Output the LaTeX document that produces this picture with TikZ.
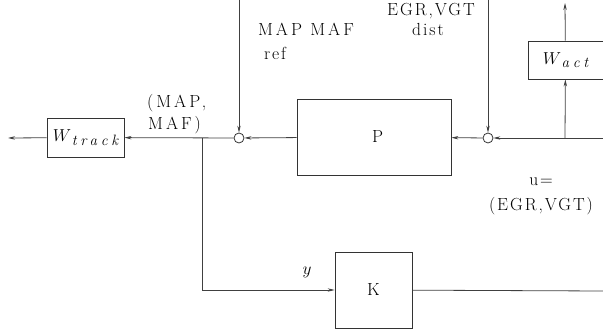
\documentclass[tikz,border=0pt]{standalone}
\usepackage{fontspec}
\setmainfont{Latin Modern Roman}[LetterSpace=11]
\usetikzlibrary{arrows.meta}
% weighting-block label: large W with a spaced italic subscript
\newcommand{\wlabel}[1]{{\fontsize{19}{19}\selectfont$W$}\kern0.5pt\raisebox{-3.5pt}{\fontsize{15}{15}\selectfont\addfontfeature{LetterSpace=25}\itshape #1}}
\tikzset{
  wire/.style={draw=black!75, line width=0.8pt},
  arr/.style={wire, -{Stealth[length=7pt,width=3.4pt]}},
  blk/.style={draw=black!80, line width=0.8pt, inner sep=0pt, rectangle},
  sumnode/.style={draw=black!80, line width=0.8pt, circle, minimum size=10pt, inner sep=0pt},
  lbl/.style={inner sep=0pt, anchor=base},
  wide/.style={font=\fontsize{17.5}{23}\selectfont\addfontfeature{LetterSpace=17}},
}
\begin{document}
\begin{tikzpicture}[x=1pt, y=-1pt, font=\fontsize{17.5}{23}\selectfont]
\useasboundingbox (0,0) rectangle (603,329);

% blocks
\node[blk, minimum width=77pt, minimum height=39pt] (Wt) at (85.5,137.5) {\wlabel{track}};
\node[blk, minimum width=154pt, minimum height=76pt] (P) at (374,137) {\ P};
\node[blk, minimum width=75pt, minimum height=38pt] (Wa) at (565.5,60) {\wlabel{act}};
\node[blk, minimum width=77pt, minimum height=76pt] (K) at (373.5,290) {K};

% summing junctions
\node[sumnode] (s1) at (239,138) {};
\node[sumnode] (s2) at (488,138) {};

% free ends and branch points
\coordinate (outL) at (8,138);
\coordinate (top1) at (239,0);
\coordinate (top2) at (488,0);
\coordinate (rin) at (603,138);
\coordinate (br) at (565,138);
\coordinate (atop) at (565,3);
\coordinate (jn) at (202,138);
\coordinate (kout) at (603,291);

% signal paths
\draw[arr] (rin) -- (s2);
\draw[arr] (top2) -- (s2);
\draw[arr] (s2) -- (P);
\draw[arr] (P) -- (s1);
\draw[arr] (top1) -- (s1);
\draw[arr] (s1) -- (Wt);
\draw[arr] (Wt) -- (outL);
\draw[arr] (br) -- (Wa);
\draw[arr] (Wa) -- (atop);
\draw[arr] (jn) |- (K);
\draw[wire] (K) -- (kout);

% signal labels
\node[lbl, wide] (lref) at (306,36) {MAP MAF};
\node[lbl] (lref2) at (275,60) {ref};
\node[lbl] (ldist) at (431,16) {EGR,VGT};
\node[lbl] (ldist2) at (428,36) {dist};
\node[lbl, wide, anchor=base west] (lmeas) at (147,107) {(MAP,};
\node[lbl, wide, anchor=base west] (lmeas2) at (148,129) {MAF)};
\node[lbl] (lu) at (541,185) {u=};
\node[lbl] (lu2) at (541,210) {(EGR,VGT)};
\node[lbl] (ly) at (307,274) {$y$};
\end{tikzpicture}
\end{document}
